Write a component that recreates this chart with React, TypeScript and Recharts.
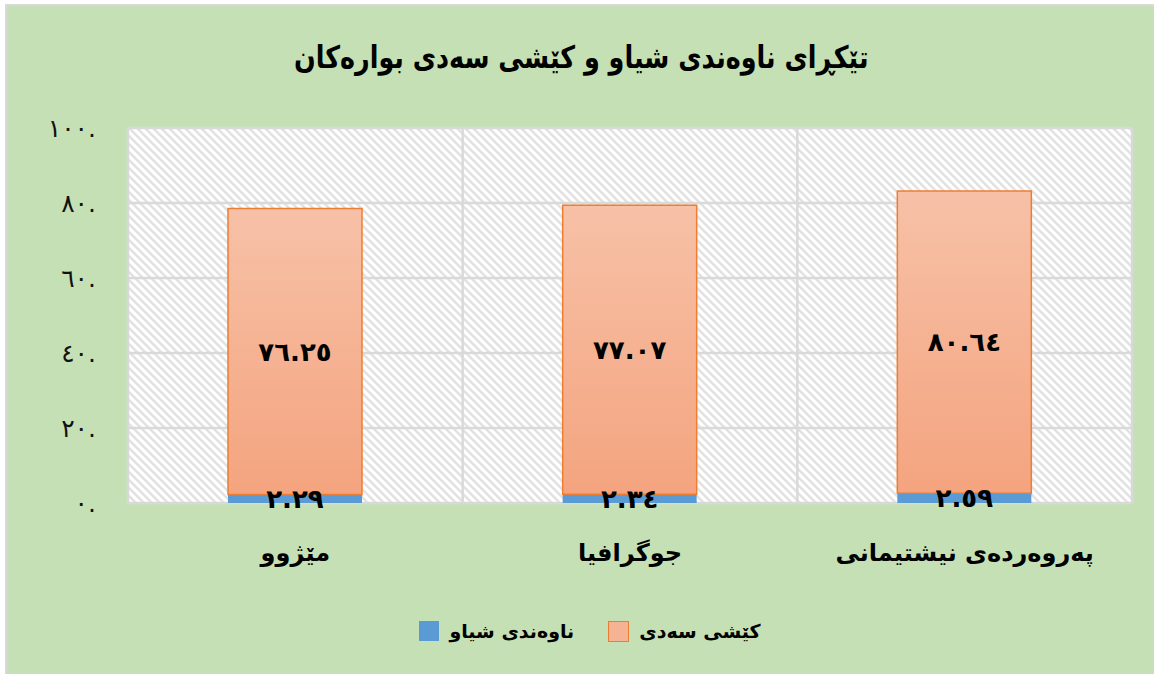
import React from "react"
import { BarChart, Bar, XAxis, YAxis, CartesianGrid, LabelList, Legend } from "recharts"

const categories = ["مێژوو", "جوگرافیا", "پەروەردەی نیشتیمانی"]
const meanValues = [2.29, 2.34, 2.59]
const weightValues = [76.25, 77.07, 80.64]
const yTicks = [0, 20, 40, 60, 80, 100]

const title = "تێکڕای ناوەندی شیاو و کێشی سەدی بوارەکان"
const meanName = "ناوەندی شیاو"
const weightName = "کێشی سەدی"

const data = categories.map((name, i) => ({ name, mean: meanValues[i], weight: weightValues[i] }))

const AR = "٠١٢٣٤٥٦٧٨٩"
const toAr = (s: string) => s.replace(/\d/g, (d) => AR[+d])

const FONT = "'DejaVu Sans', sans-serif"
const W = 1148
const H = 669

const YTick = ({ x, y, payload }: any) => (
  <text x={x - 24} y={y + 9} textAnchor="end" fontFamily={FONT} fontSize={25} style={{ letterSpacing: "8px" }} fill="#111">
    {toAr(String(payload.value)) + "."}
  </text>
)

const XTick = ({ x, y, payload }: any) => (
  <text x={x} y={y + 50} textAnchor="middle" fontFamily={FONT} fontWeight="bold" fontSize={24} fill="#000">
    {payload.value}
  </text>
)

const LegendBox = () => (
  <div style={{ display: "flex", justifyContent: "center", alignItems: "center", height: 40, paddingLeft: 20, fontFamily: FONT, fontWeight: "bold", fontSize: 19, color: "#000" }}>
    <span style={{ width: 20, height: 20, background: "#5B9BD5", display: "inline-block", marginRight: 10 }} />
    <span style={{ marginRight: 34 }}>{meanName}</span>
    <span style={{ width: 21, height: 21, background: "#F6B394", border: "1.5px solid #ED7D31", boxSizing: "border-box", display: "inline-block", marginRight: 10 }} />
    <span>{weightName}</span>
  </div>
)

export default function App() {
  return (
    <div style={{ position: "absolute", left: 5, top: 4, width: W + 2, height: H + 2, background: "#D9D9D9" }}>
      <svg width={0} height={0} style={{ position: "absolute" }}>
        <defs>
          <pattern id="hatch" patternUnits="userSpaceOnUse" width={8} height={8}>
            <rect width={8} height={8} fill="#ffffff" />
            <path d="M-2,-2 L10,10 M-2,6 L2,10 M6,-2 L10,2" stroke="#E2E2E2" strokeWidth={2.5} />
          </pattern>
          <linearGradient id="orangeFill" x1="0" y1="0" x2="0" y2="1">
            <stop offset="0%" stopColor="#F7C1A7" />
            <stop offset="100%" stopColor="#F4A47F" />
          </linearGradient>
        </defs>
      </svg>
      <div style={{ position: "absolute", left: 2, top: 2, width: W, height: H, background: "#C5E0B4" }}>
        <div style={{ position: "absolute", left: 0, top: 33, width: W, textAlign: "center" }}>
          <span style={{ display: "inline-block", transform: "scaleX(0.82)", fontFamily: FONT, fontWeight: "bold", fontSize: 31, color: "#000" }}>
            {title}
          </span>
        </div>
        <BarChart width={W} height={H} data={data} barSize={134} margin={{ top: 122, right: 23, left: 21, bottom: 24 }}>
          <CartesianGrid
            stroke="#D9D9D9"
            strokeWidth={2.5}
            fill="url(#hatch)"
            fillOpacity={1}
            verticalCoordinatesGenerator={({ offset }: any) =>
              [0, 1, 2, 3].map((i) => offset.left + (i * offset.width) / 3)
            }
          />
          <XAxis dataKey="name" axisLine={false} tickLine={false} height={108} tick={<XTick />} interval={0} />
          <YAxis domain={[0, 100]} ticks={yTicks} axisLine={false} tickLine={false} width={100} tick={<YTick />} />
          <Legend verticalAlign="bottom" height={40} content={<LegendBox />} />
          <Bar dataKey="mean" stackId="a" fill="#5B9BD5" isAnimationActive={false}>
            <LabelList dataKey="mean" position="center" formatter={(v: any) => toAr(Number(v).toFixed(2))} fill="#000" fontFamily={FONT} fontWeight="bold" fontSize={26} />
          </Bar>
          <Bar dataKey="weight" stackId="a" fill="url(#orangeFill)" stroke="#ED7D31" strokeWidth={1.5} isAnimationActive={false}>
            <LabelList dataKey="weight" position="center" formatter={(v: any) => toAr(Number(v).toFixed(2))} fill="#000" fontFamily={FONT} fontWeight="bold" fontSize={26} />
          </Bar>
        </BarChart>
      </div>
    </div>
  )
}
